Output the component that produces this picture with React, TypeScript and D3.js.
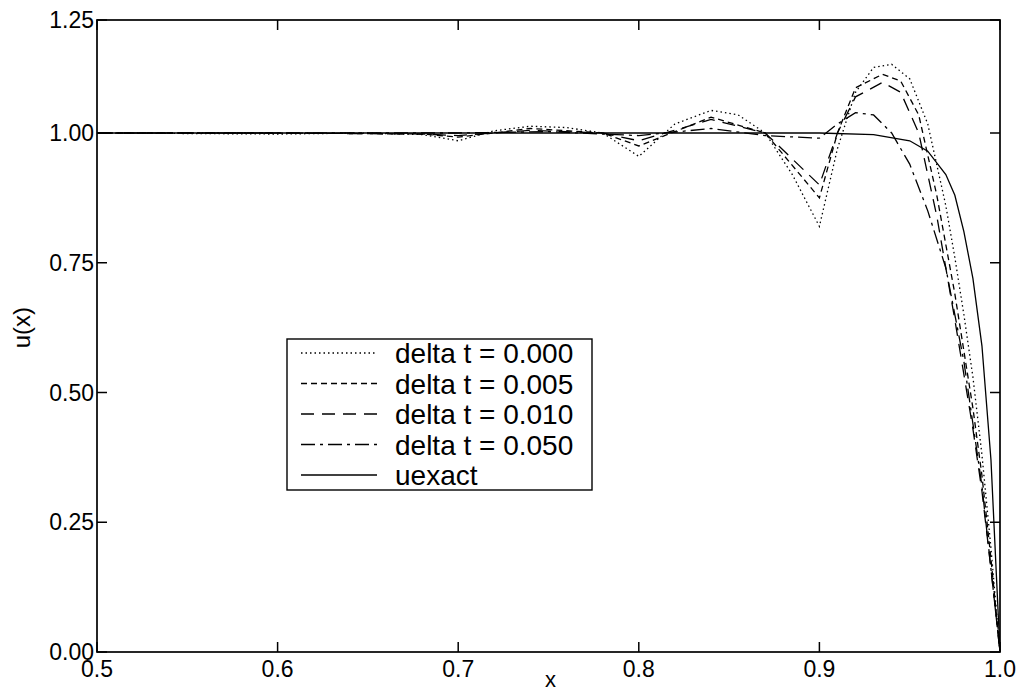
import React, { useEffect, useRef } from 'react';
import * as d3 from 'd3';

type Pt = [number, number];

const xTicks = [0.5, 0.6, 0.7, 0.8, 0.9, 1.0];
const yTicks = [0, 0.25, 0.5, 0.75, 1.0, 1.25];

const dt000: Pt[] = [
  [0.5, 1.0], [0.55, 0.999], [0.6, 0.998], [0.65, 1.0], [0.68, 0.997], [0.7, 0.985],
  [0.72, 1.005], [0.74, 1.015], [0.76, 1.012], [0.78, 1.0], [0.8, 0.955], [0.82, 1.02],
  [0.84, 1.05], [0.855, 1.04], [0.87, 1.0], [0.885, 0.92], [0.9, 0.82], [0.91, 0.97],
  [0.92, 1.09], [0.93, 1.145], [0.94, 1.152], [0.95, 1.12], [0.96, 1.02], [0.97, 0.86],
  [0.975, 0.76], [0.98, 0.65], [0.985, 0.53], [0.99, 0.38], [0.995, 0.2], [1.0, 0.0],
];
const dt005: Pt[] = [
  [0.5, 1.0], [0.6, 1.0], [0.68, 0.998], [0.7, 0.992], [0.74, 1.01], [0.78, 1.0], [0.8, 0.975],
  [0.84, 1.035], [0.87, 1.0], [0.9, 0.875], [0.91, 1.0], [0.92, 1.1], [0.935, 1.13],
  [0.945, 1.115], [0.955, 1.04], [0.965, 0.88], [0.975, 0.69], [0.985, 0.47], [0.99, 0.34],
  [0.995, 0.18], [1.0, 0.0],
];
const dt010: Pt[] = [
  [0.5, 1.0], [0.6, 1.0], [0.68, 0.998], [0.7, 0.995], [0.74, 1.006], [0.78, 1.0], [0.8, 0.985],
  [0.84, 1.03], [0.87, 1.0], [0.9, 0.9], [0.91, 1.0], [0.92, 1.08], [0.935, 1.112],
  [0.945, 1.09], [0.955, 1.0], [0.965, 0.84], [0.975, 0.64], [0.985, 0.43], [0.99, 0.31],
  [0.995, 0.16], [1.0, 0.0],
];
const dt050: Pt[] = [
  [0.5, 1.0], [0.6, 1.0], [0.7, 1.0], [0.75, 1.003], [0.8, 0.995], [0.84, 1.01], [0.87, 0.995],
  [0.9, 0.99], [0.91, 1.02], [0.92, 1.045], [0.93, 1.04], [0.94, 1.0], [0.95, 0.94],
  [0.96, 0.85], [0.97, 0.74], [0.98, 0.56], [0.99, 0.32], [1.0, 0.0],
];
const uexact: Pt[] = [
  [0.5, 1.0], [0.6, 1.0], [0.7, 1.0], [0.8, 1.0], [0.9, 1.0], [0.93, 0.997], [0.95, 0.985],
  [0.96, 0.965], [0.97, 0.92], [0.975, 0.88], [0.98, 0.81], [0.985, 0.72], [0.99, 0.59],
  [0.995, 0.37], [1.0, 0.0],
];

const labels = ['delta t = 0.000', 'delta t = 0.005', 'delta t = 0.010', 'delta t = 0.050', 'uexact'];
const dashes = ['1.5,3', '6,4', '13,8', '14,5,3,5', 'none'];

export default function App() {
  const svgRef = useRef<SVGSVGElement>(null);

  useEffect(() => {
    const svg = d3.select(svgRef.current);
    svg.selectAll('*').remove();
    const font = 'Liberation Sans, Arial, sans-serif';

    const x = d3.scaleLinear().domain([0.5, 1.0]).range([97, 1000]);
    // scanned page is slightly stretched near the top, so a two-piece scale
    const y = d3.scaleLinear().domain([0, 1, 1.25]).range([652, 133, 20]);

    const series = [dt000, dt005, dt010, dt050, uexact];
    const line = d3.line<Pt>().x(d => x(d[0])).y(d => y(d[1]));

    series.forEach((s, i) => {
      svg.append('path')
        .attr('d', line(s))
        .attr('fill', 'none')
        .attr('stroke', '#000')
        .attr('stroke-width', 1.3)
        .attr('stroke-dasharray', dashes[i]);
    });

    // frame
    svg.append('rect')
      .attr('x', x(0.5)).attr('y', y(1.25))
      .attr('width', x(1.0) - x(0.5)).attr('height', y(0) - y(1.25))
      .attr('fill', 'none').attr('stroke', '#000').attr('stroke-width', 1.7);

    const tl = 10;
    xTicks.forEach(t => {
      svg.append('line').attr('x1', x(t)).attr('x2', x(t)).attr('y1', y(0)).attr('y2', y(0) - tl)
        .attr('stroke', '#000').attr('stroke-width', 1.5);
      svg.append('line').attr('x1', x(t)).attr('x2', x(t)).attr('y1', y(1.25)).attr('y2', y(1.25) + tl)
        .attr('stroke', '#000').attr('stroke-width', 1.5);
      svg.append('text').attr('x', x(t)).attr('y', 677)
        .attr('text-anchor', 'middle').attr('font-family', font).attr('font-size', 23)
        .text(d3.format('.1f')(t));
    });
    yTicks.forEach(t => {
      svg.append('line').attr('x1', x(0.5)).attr('x2', x(0.5) + tl).attr('y1', y(t)).attr('y2', y(t))
        .attr('stroke', '#000').attr('stroke-width', 1.5);
      svg.append('line').attr('x1', x(1.0)).attr('x2', x(1.0) - tl).attr('y1', y(t)).attr('y2', y(t))
        .attr('stroke', '#000').attr('stroke-width', 1.5);
      svg.append('text').attr('x', x(0.5) - 3).attr('y', y(t) + 8)
        .attr('text-anchor', 'end').attr('font-family', font).attr('font-size', 23)
        .text(d3.format('.2f')(t));
    });

    svg.append('text').attr('x', (x(0.5) + x(1.0)) / 2 + 2).attr('y', 687)
      .attr('text-anchor', 'middle').attr('font-family', font).attr('font-size', 22).text('x');
    svg.append('text')
      .attr('transform', `translate(30,${y(0.625)}) rotate(-90)`)
      .attr('text-anchor', 'middle').attr('font-family', font).attr('font-size', 24).text('u(x)');

    // legend
    const lg = svg.append('g').attr('transform', 'translate(287,339)');
    lg.append('rect').attr('width', 305).attr('height', 151)
      .attr('fill', '#fff').attr('stroke', '#000').attr('stroke-width', 1.4);
    labels.forEach((lab, i) => {
      const cy = 14 + i * 30.5;
      lg.append('line').attr('x1', 14).attr('x2', 90).attr('y1', cy).attr('y2', cy)
        .attr('stroke', '#000').attr('stroke-width', 1.3).attr('stroke-dasharray', dashes[i]);
      lg.append('text').attr('x', 108).attr('y', cy + 10)
        .attr('font-family', font).attr('font-size', 28).text(lab);
    });
  }, []);

  return (
    <svg
      ref={svgRef}
      width={1023}
      height={692}
      style={{ display: 'block', position: 'absolute', left: 0, top: 0 }}
    />
  );
}
